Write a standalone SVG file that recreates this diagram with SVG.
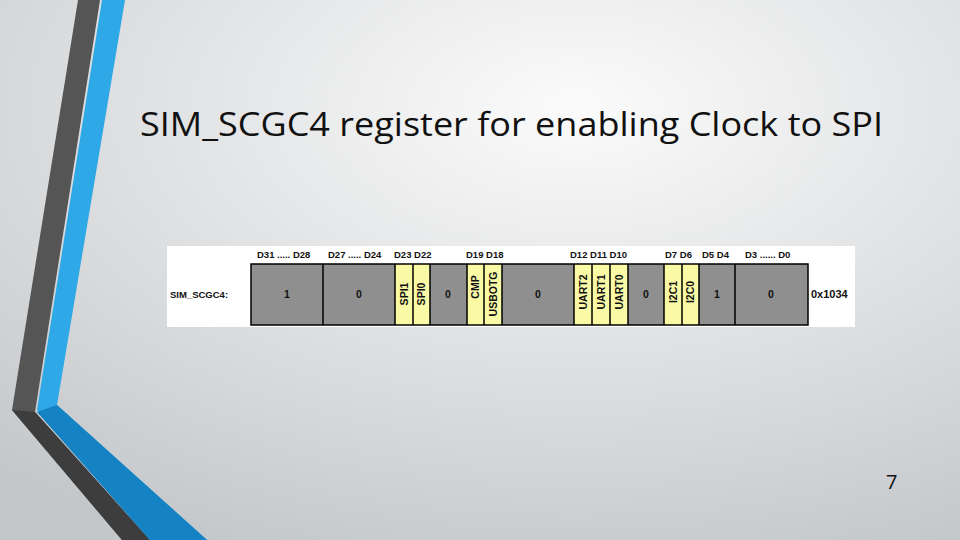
<svg xmlns="http://www.w3.org/2000/svg" width="960" height="540" viewBox="0 0 960 540">
<defs>
<radialGradient id="bg" cx="0.6" cy="0.2" r="0.9">
<stop offset="0" stop-color="#fbfbfb"/><stop offset="1" stop-color="#c4c7ca"/>
</radialGradient>
<style>
.c{stroke:#000;stroke-width:1.5}
.g{fill:#8f8f8f}
.y{fill:#fafaa6}
.t{font-family:"Liberation Sans",Arial,sans-serif;font-weight:bold;font-size:9.5px;fill:#111}
.v{font-family:"Liberation Sans",Arial,sans-serif;font-weight:bold;font-size:10.5px;fill:#111;text-anchor:middle}
</style>
</defs>
<rect width="960" height="540" fill="url(#bg)"/>
<polygon points="78,0 100,0 35,412 150,540 122,540 12,410" fill="#555"/>
<polygon points="35,412 150,540 122,540 12,410" fill="#3d3d3d"/>
<polygon points="102,0 125,0 57,405 207,540 150,540 37,410" fill="#2ea8e6"/>
<polygon points="57,405 207,540 150,540 37,412" fill="#1582c4"/>
<text x="140" y="136" font-family="'Open Sans',sans-serif" font-size="32" fill="#111" textLength="743" lengthAdjust="spacingAndGlyphs">SIM_SCGC4 register for enabling Clock to SPI</text>
<text x="886" y="489" font-family="'Open Sans',sans-serif" font-size="20" fill="#111">7</text>
<g id="register">
<rect x="167" y="246" width="688" height="81" fill="#fff"/>
<text class="t" x="170" y="298" font-size="10.5">SIM_SCGC4:</text>
<g class="t">
<text x="257" y="258">D31 ..... D28</text>
<text x="328" y="258">D27 ..... D24</text>
<text x="394" y="258">D23 D22</text>
<text x="466" y="258">D19 D18</text>
<text x="570" y="258">D12 D11 D10</text>
<text x="665" y="258">D7 D6</text>
<text x="702" y="258">D5  D4</text>
<text x="745" y="258">D3 ...... D0</text>
<text x="811" y="298" font-size="11">0x1034</text>
</g>
<rect class="g" x="251" y="264" width="557" height="61"/>
<rect class="y" x="395" y="264" width="35" height="61"/>
<rect class="y" x="467" y="264" width="35" height="61"/>
<rect class="y" x="574" y="264" width="54" height="61"/>
<rect class="y" x="664" y="264" width="35" height="61"/>
<g class="c" fill="none">
<rect x="251" y="264" width="557" height="61"/>
<path d="M323 264V325M395 264V325M413 264V325M430 264V325M467 264V325M484 264V325M502 264V325M574 264V325M592 264V325M610 264V325M628 264V325M664 264V325M682 264V325M699 264V325M735 264V325"/>
</g>
<g class="v">
<text x="287" y="298">1</text><text x="359" y="298">0</text><text x="448" y="298">0</text>
<text x="538" y="298">0</text><text x="646" y="298">0</text><text x="717" y="298">1</text><text x="771" y="298">0</text>
<text transform="translate(408,294) rotate(-90)">SPI1</text>
<text transform="translate(425,294) rotate(-90)">SPI0</text>
<text transform="translate(479,287) rotate(-90)">CMP</text>
<text transform="translate(497,294) rotate(-90)">USBOTG</text>
<text transform="translate(587,292) rotate(-90)">UART2</text>
<text transform="translate(605,292) rotate(-90)">UART1</text>
<text transform="translate(623,292) rotate(-90)">UART0</text>
<text transform="translate(677,292) rotate(-90)">I2C1</text>
<text transform="translate(694,292) rotate(-90)">I2C0</text>
</g>
</g>
</svg>
